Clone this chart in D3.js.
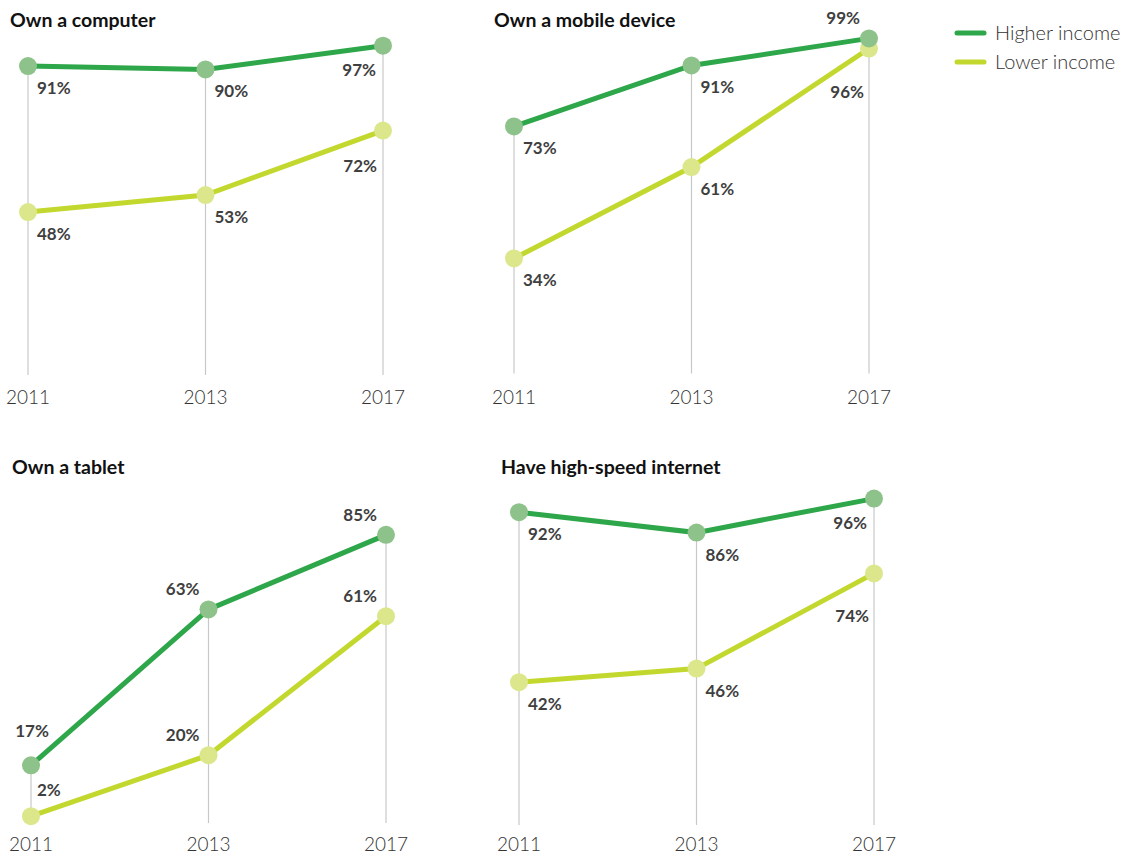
<!DOCTYPE html>
<html>
<head>
<meta charset="utf-8">
<script src="https://cdn.jsdelivr.net/npm/d3@7"></script>
<style>
  body { margin: 0; background: #fff; }
  svg text { font-family: Lato, "Open Sans", sans-serif; }
</style>
</head>
<body>
<div id="chart"></div>
<script>
// Colors
var higherLine = "#2EA64A";
var higherDot = "#8DC38A";
var lowerLine = "#C3D82E";
var lowerDot = "#DCE78C";
var labelGrey = "#3F3F3F";
var gridGrey = "#C8C8C8";

// Data
const years = ["2011", "2013", "2017"];
const titles = ["Own a computer", "Own a mobile device", "Own a tablet", "Have high-speed internet"];
const higherIncome = [
  [91, 90, 97],
  [73, 91, 99],
  [17, 63, 85],
  [92, 86, 96]
];
const lowerIncome = [
  [48, 53, 72],
  [34, 61, 96],
  [2, 20, 61],
  [42, 46, 74]
];
// label placement codes: br = below right, bl = below left, blm / bll = further below left,
// al = above left, ac = above centre, ar = above right
const higherPlace = [
  ["br", "br", "bl"],
  ["br", "br", "al"],
  ["ac", "al", "al"],
  ["br", "br", "bl"]
];
const lowerPlace = [
  ["br", "br", "blm"],
  ["br", "br", "bll"],
  ["ar", "al", "al"],
  ["br", "br", "bll"]
];
const legendNames = ["Higher income", "Lower income"];

const svg = d3.select("#chart").append("svg")
  .attr("width", 1125)
  .attr("height", 854);

// panel frames: x of first year, y of 0% and 100%
const panels = [
  { x0: 28, y0: 375, y100: 35.5, titleX: 10, titleY: 27, yearY: 404 },
  { x0: 514, y0: 373.5, y100: 35, titleX: 494, titleY: 27, yearY: 404 },
  { x0: 31, y0: 823, y100: 484, titleX: 12, titleY: 474, yearY: 851 },
  { x0: 519, y0: 825, y100: 485, titleX: 501, titleY: 474, yearY: 851 }
];

function labelPos(code, px, py) {
  switch (code) {
    case "br": return { x: px + 9, y: py + 28, anchor: "start" };
    case "bl": return { x: px - 7, y: py + 30, anchor: "end" };
    case "blm": return { x: px - 6, y: py + 41, anchor: "end" };
    case "bll": return { x: px - 5, y: py + 49, anchor: "end" };
    case "al": return { x: px - 9, y: py - 14, anchor: "end" };
    case "ac": return { x: px + 1, y: py - 28, anchor: "middle" };
    case "ar": return { x: px + 6, y: py - 20, anchor: "start" };
  }
}

panels.forEach(function (p, i) {
  const g = svg.append("g");
  const x = d3.scalePoint().domain(years).range([p.x0, p.x0 + 355]);
  const y = d3.scaleLinear().domain([0, 100]).range([p.y0, p.y100]);

  g.append("text")
    .attr("x", p.titleX).attr("y", p.titleY)
    .text(titles[i])
    .style("font-size", "19.5px")
    .style("font-weight", "bold")
    .style("fill", "#111");

  // vertical gridlines from top point down, year labels below
  years.forEach(function (yr, j) {
    const top = Math.max(higherIncome[i][j], lowerIncome[i][j]);
    g.append("line")
      .attr("x1", x(yr)).attr("x2", x(yr))
      .attr("y1", y(top)).attr("y2", y(0))
      .attr("stroke", gridGrey)
      .attr("stroke-width", 1.2);
    g.append("text")
      .attr("x", x(yr)).attr("y", p.yearY)
      .attr("text-anchor", "middle")
      .text(yr)
      .style("font-size", "19px")
      .style("font-weight", 300)
      .style("fill", "#333");
  });

  const line = d3.line()
    .x(function (d, j) { return x(years[j]); })
    .y(function (d) { return y(d); });

  const series = [
    { vals: lowerIncome[i], stroke: lowerLine, dot: lowerDot, place: lowerPlace[i] },
    { vals: higherIncome[i], stroke: higherLine, dot: higherDot, place: higherPlace[i] }
  ];

  series.forEach(function (s) {
    g.append("path")
      .datum(s.vals)
      .attr("d", line)
      .attr("fill", "none")
      .attr("stroke", s.stroke)
      .attr("stroke-width", 5);
  });
  series.forEach(function (s) {
    g.selectAll(null)
      .data(s.vals)
      .enter().append("circle")
      .attr("cx", function (d, j) { return x(years[j]); })
      .attr("cy", function (d) { return y(d); })
      .attr("r", 9)
      .attr("fill", s.dot);
  });
  series.forEach(function (s) {
    s.vals.forEach(function (d, j) {
      const pos = labelPos(s.place[j], x(years[j]), y(d));
      g.append("text")
        .attr("x", pos.x).attr("y", pos.y)
        .attr("text-anchor", pos.anchor)
        .text(d + "%")
        .style("font-size", "17px")
        .style("font-weight", "bold")
        .style("fill", labelGrey);
    });
  });
});

// Legend
const legend = svg.append("g");
legendNames.forEach(function (name, k) {
  const ly = 33 + k * 29;
  legend.append("line")
    .attr("x1", 957).attr("x2", 984)
    .attr("y1", ly).attr("y2", ly)
    .attr("stroke", k === 0 ? higherLine : lowerLine)
    .attr("stroke-width", 5)
    .attr("stroke-linecap", "round");
  legend.append("text")
    .attr("x", 995).attr("y", ly + 7)
    .text(name)
    .style("font-size", "20px")
    .style("font-weight", 300)
    .style("fill", "#333");
});
</script>
</body>
</html>
